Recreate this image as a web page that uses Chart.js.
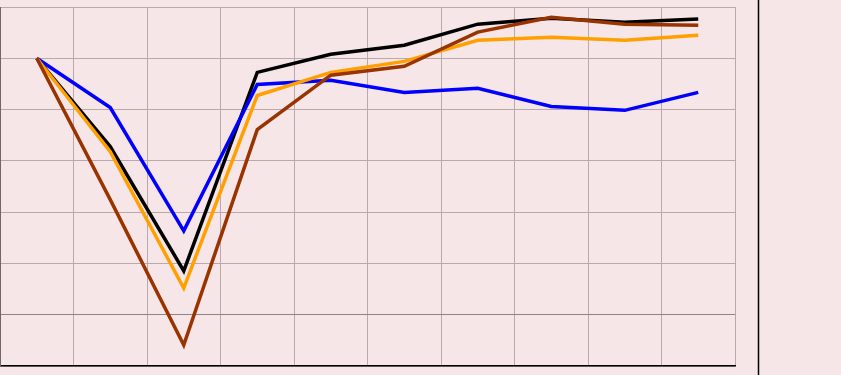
<!DOCTYPE html>
<html>
<head>
<meta charset="utf-8">
<script src="https://cdn.jsdelivr.net/npm/chart.js@4/dist/chart.umd.min.js"></script>
<style>
    html, body { margin: 0; padding: 0; background: #f7e6e7; }
    #wrap { width: 841px; height: 375px; position: relative; }
</style>
</head>
<body>
<div id="wrap"><canvas id="chart"></canvas></div>
<script>
const categories = ['1', '2', '3', '4', '5', '6', '7', '8', '9', '10'];
const blackSeries = [100, 65.6, 17.1, 94.5, 101.6, 105.1, 113.3, 115.6, 114.1, 115.3];
const blueSeries = [100, 80.8, 32.7, 89.8, 91.4, 86.7, 88.3, 81.2, 79.7, 86.7];
const orangeSeries = [100, 63.6, 10.4, 85.5, 94.5, 98.8, 107.0, 108.2, 107.0, 109.0];
const brownSeries = [100, 44.9, -11.8, 72.2, 93.4, 96.9, 110.2, 116.0, 113.3, 112.9];

// thin black rule on the right side of the picture
const sideRule = {
    id: 'sideRule',
    afterDraw(chart) {
        const ctx = chart.ctx;
        ctx.save();
        ctx.strokeStyle = '#000';
        ctx.lineWidth = 1.5;
        ctx.beginPath();
        ctx.moveTo(758.5, 0);
        ctx.lineTo(758.5, chart.height);
        ctx.stroke();
        ctx.restore();
    }
};

function line(data, color) {
    return { data, borderColor: color, borderWidth: 3.5, pointRadius: 0, tension: 0, fill: false };
}

new Chart(document.getElementById('chart'), {
    type: 'line',
    data: {
        labels: categories,
        datasets: [
            line(brownSeries, '#993300'),
            line(orangeSeries, '#ffa000'),
            line(blueSeries, '#0000ff'),
            line(blackSeries, '#000000')
        ]
    },
    options: {
        responsive: true,
        maintainAspectRatio: false,
        animation: false,
        layout: { padding: { left: 0, right: 106, top: 7, bottom: 9 } },
        plugins: { legend: { display: false }, tooltip: { enabled: false } },
        scales: {
            x: {
                offset: true,
                grid: { offset: true, color: '#b9a9ab', drawTicks: false },
                border: { color: '#000', width: 1.5 },
                ticks: { display: false }
            },
            y: {
                min: -20,
                max: 120,
                ticks: { display: false, stepSize: 20 },
                grid: {
                    drawTicks: false,
                    color: ctx => ctx.tick && ctx.tick.value === 0 ? '#8e8485' : '#b9a9ab'
                },
                border: { color: '#6f6667', width: 1 }
            }
        }
    },
    plugins: [sideRule]
});
</script>
</body>
</html>
